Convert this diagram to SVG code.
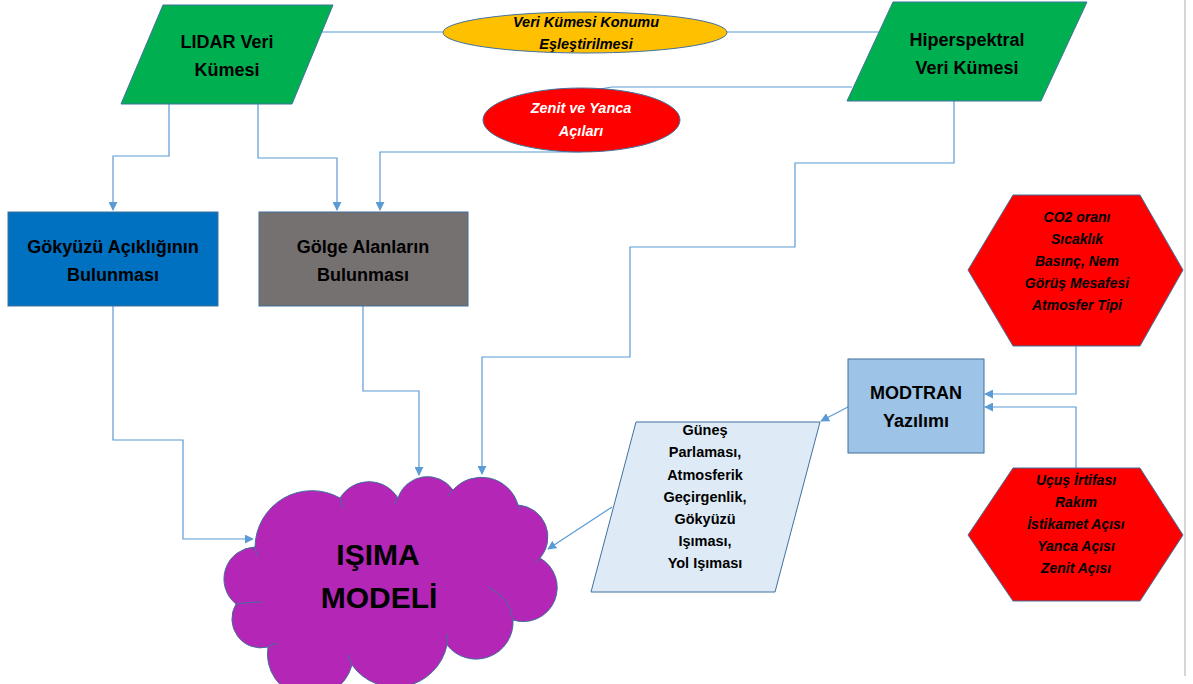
<svg xmlns="http://www.w3.org/2000/svg" width="1193" height="684" viewBox="0 0 1193 684">
<defs>
<marker id="arr" viewBox="0 0 10 10" refX="9" refY="5" markerWidth="9" markerHeight="9" markerUnits="userSpaceOnUse" orient="auto">
<path d="M0,0 L10,5 L0,10 z" fill="#5B9BD5"/>
</marker>
<style>
.shape{stroke:#41719C;stroke-width:1}
.conn{fill:none;stroke:#5B9BD5;stroke-width:1.2}
.arr{marker-end:url(#arr)}
.t{font-family:"Liberation Sans",Arial,sans-serif;font-weight:bold;text-anchor:middle;fill:#000}
.ti{font-family:"Liberation Sans",Arial,sans-serif;font-weight:bold;font-style:italic;text-anchor:middle;fill:#000}
.w{fill:#fff}
</style>
</defs>
<rect width="1193" height="684" fill="#fff"/>
<line x1="1185" y1="0" x2="1185" y2="676" stroke="#C8C8C8" stroke-width="1.5"/>

<g id="connectors">
<line class="conn" x1="312" y1="32" x2="880" y2="32"/>
<polyline class="conn" points="852,87 612,87 600,89"/>
<polyline class="conn arr" points="581,152 380,152 380,210"/>
<polyline class="conn arr" points="169,104 169,156 113,156 113,210"/>
<polyline class="conn arr" points="258,104 258,158 337,158 337,210"/>
<polyline class="conn arr" points="954,101 954,163 795,163 795,247 630,247 630,357 482,357 482,474"/>
<polyline class="conn arr" points="363,306 363,391 419,391 419,475"/>
<polyline class="conn arr" points="113,306 113,440 183,440 183,539 253,539"/>
<polyline class="conn arr" points="1076,346 1076,394 985,394"/>
<polyline class="conn arr" points="1076,468 1076,407 985,407"/>
<line class="conn arr" x1="848" y1="407" x2="821" y2="421"/>
<line class="conn arr" x1="612" y1="507" x2="548" y2="549"/>
</g>

<g id="lidar">
<polygon class="shape" points="163,5 333,5 292,104 121,104" fill="#00B050"/>
<text class="t" font-size="18" x="227" y="48">LIDAR Veri</text>
<text class="t" font-size="18" x="227" y="76">Kümesi</text>
</g>

<g id="hiperspektral">
<polygon class="shape" points="893,2 1087,2 1041,101 847,101" fill="#00B050"/>
<text class="t" font-size="18" x="967" y="46">Hiperspektral</text>
<text class="t" font-size="18" x="967" y="74">Veri Kümesi</text>
</g>

<g id="konum">
<ellipse class="shape" cx="585" cy="32.5" rx="142" ry="20.5" fill="#FFC000"/>
<text class="ti" font-size="14.5" x="586" y="27">Veri Kümesi Konumu</text>
<text class="ti" font-size="14.5" x="586" y="49">Eşleştirilmesi</text>
</g>

<g id="aci">
<ellipse class="shape" cx="581.5" cy="120" rx="98.5" ry="32" fill="#FF0000"/>
<text class="ti w" font-size="14.5" x="581" y="113">Zenit ve Yanca</text>
<text class="ti w" font-size="14.5" x="581" y="136">Açıları</text>
</g>

<g id="gokyuzu">
<rect class="shape" x="8" y="212" width="210" height="94" fill="#0070C0"/>
<text class="t" font-size="18" x="113" y="253">Gökyüzü Açıklığının</text>
<text class="t" font-size="18" x="113" y="281">Bulunması</text>
</g>

<g id="golge">
<rect class="shape" x="259" y="212" width="209" height="94" fill="#767171"/>
<text class="t" font-size="18" x="363" y="253">Gölge Alanların</text>
<text class="t" font-size="18" x="363" y="281">Bulunması</text>
</g>

<g id="atmosfer">
<polygon class="shape" points="1013,195 1140,195 1183,270 1140,346 1013,346 968,270" fill="#FF0000"/>
<text class="ti" font-size="14" x="1077" y="222">CO2 oranı</text>
<text class="ti" font-size="14" x="1077" y="244">Sıcaklık</text>
<text class="ti" font-size="14" x="1077" y="266">Basınç, Nem</text>
<text class="ti" font-size="14" x="1077" y="288">Görüş Mesafesi</text>
<text class="ti" font-size="14" x="1077" y="310">Atmosfer Tipi</text>
</g>

<g id="modtran">
<rect class="shape" x="848" y="359" width="136" height="94" fill="#9DC3E6"/>
<text class="t" font-size="18" x="916" y="399">MODTRAN</text>
<text class="t" font-size="18" x="916" y="427">Yazılımı</text>
</g>

<g id="ucus">
<polygon class="shape" points="1013,468 1140,468 1183,535 1140,601 1013,601 968,535" fill="#FF0000"/>
<text class="ti" font-size="14" x="1076" y="485">Uçuş İrtifası</text>
<text class="ti" font-size="14" x="1076" y="507">Rakım</text>
<text class="ti" font-size="14" x="1076" y="529">İstikamet Açısı</text>
<text class="ti" font-size="14" x="1076" y="551">Yanca Açısı</text>
<text class="ti" font-size="14" x="1076" y="573">Zenit Açısı</text>
</g>

<g id="cikti">
<polygon class="shape" points="636,422 820,422 775,592 591,592" fill="#DEEBF7"/>
<text class="t" font-size="14.5" x="705" y="435">Güneş</text>
<text class="t" font-size="14.5" x="705" y="457">Parlaması,</text>
<text class="t" font-size="14.5" x="705" y="480">Atmosferik</text>
<text class="t" font-size="14.5" x="705" y="502">Geçirgenlik,</text>
<text class="t" font-size="14.5" x="705" y="524">Gökyüzü</text>
<text class="t" font-size="14.5" x="705" y="546">Işıması,</text>
<text class="t" font-size="14.5" x="705" y="568">Yol Işıması</text>
</g>

<g id="isima">
<path class="shape" fill="#B326B6" d="M255,547 A57,57 0 0 1 340,498 A34,34 0 0 1 398,498 A31,31 0 0 1 453,490 A38,38 0 0 1 518,505 A32,32 0 0 1 540,558 A34,34 0 0 1 513,620 A37,37 0 0 1 447,645 A53,53 0 0 1 352,665 A43,43 0 0 1 268,647 A29,29 0 0 1 236,604 A32,32 0 0 1 255,547 Z"/>
<path fill="none" stroke="#41719C" stroke-width="1" d="M340,498 Q342,503 343,508 M398,498 Q396,501 394,504 M453,490 Q450,493 448,496 M518,505 Q520,507 520,510 M540,558 Q538,561 535,563 M488,587 Q510,597 513,620 M447,645 Q448,640 447,634 M352,665 Q349,660 348,655 M268,647 Q272,644 278,643 M236,604 Q248,602 262,602 M255,547 Q256,552 257,556"/>
<text class="t" font-size="30" x="378" y="565">IŞIMA</text>
<text class="t" font-size="30" x="379" y="608">MODELİ</text>
</g>
</svg>
